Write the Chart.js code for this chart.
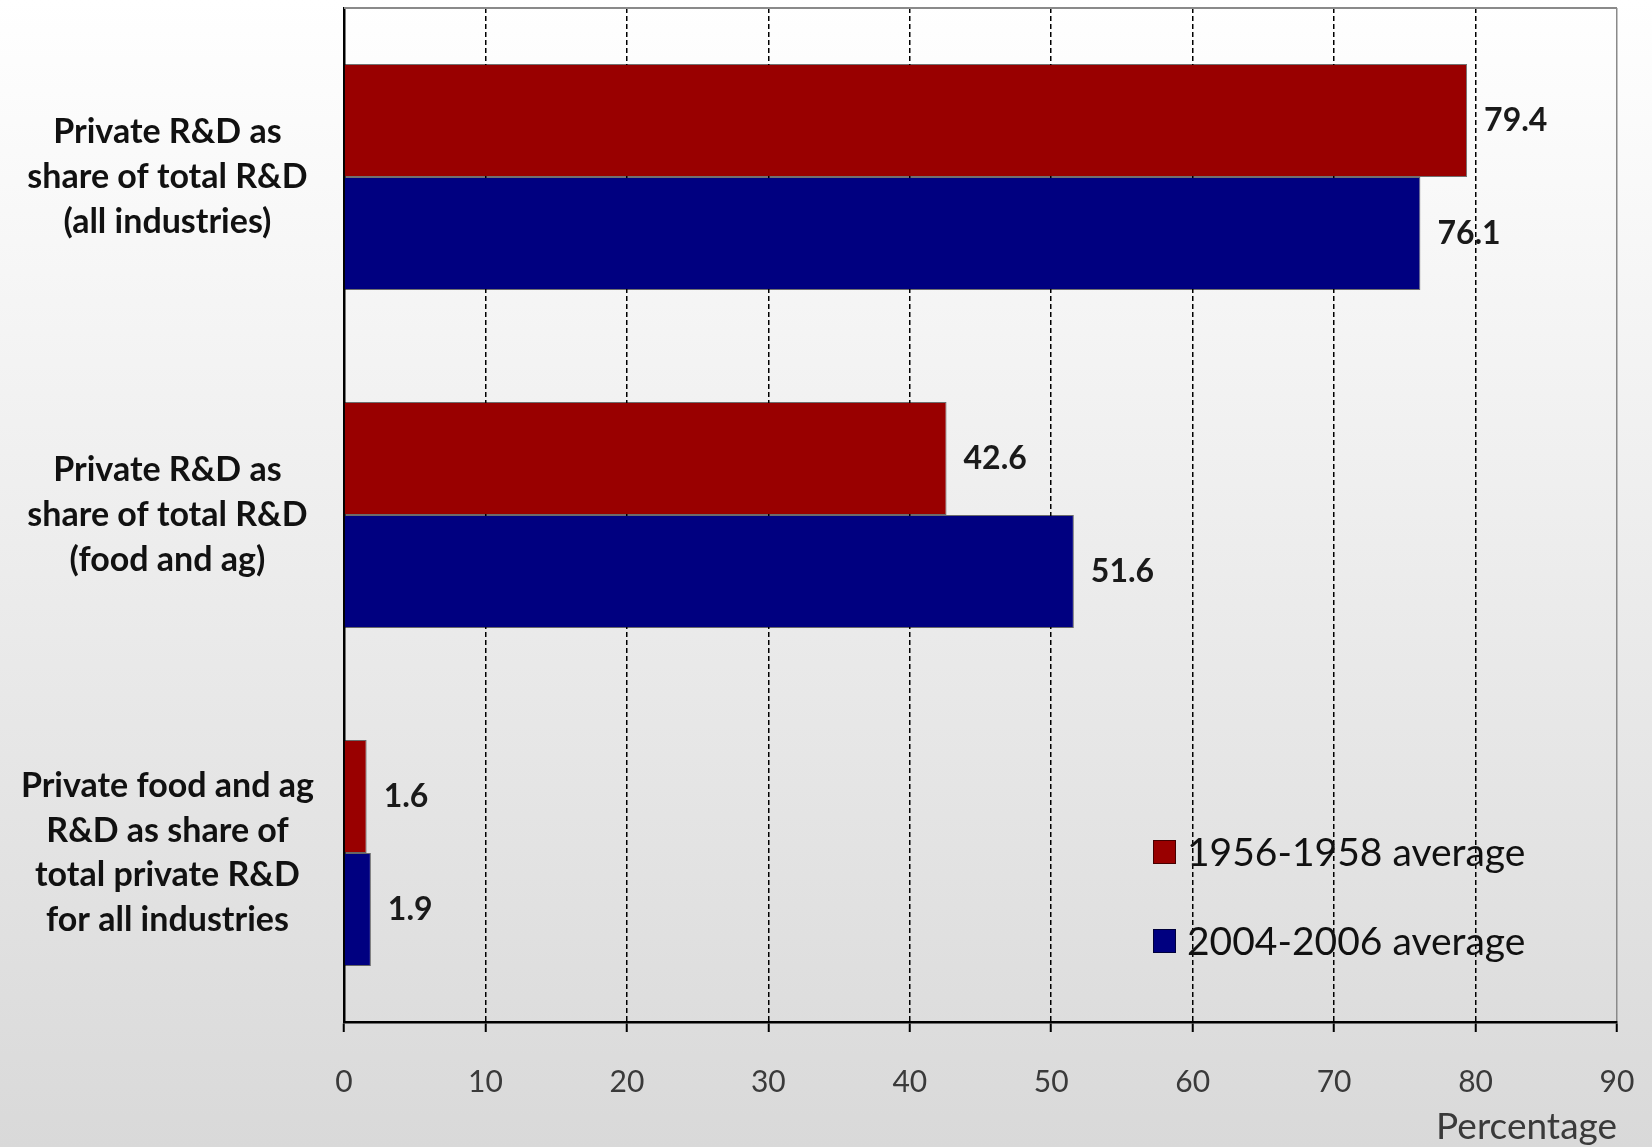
<!DOCTYPE html>
<html>
<head>
<meta charset="utf-8">
<title>Private R&amp;D shares</title>
<script src="https://cdn.jsdelivr.net/npm/chart.js@4.4.0/dist/chart.umd.min.js"></script>
<style>
    html, body { margin: 0; padding: 0; }
    body {
        width: 1652px;
        height: 1147px;
        overflow: hidden;
        background: linear-gradient(to bottom, #ffffff 0%, #d9d9d9 100%);
    }
    canvas { display: block; }
</style>
</head>
<body>
<canvas id="rdChart" width="1652" height="1147"></canvas>
<script>
// category labels, one line per array entry
const categories = [
    ['Private R&D as', 'share of total R&D', '(all industries)'],
    ['Private R&D as', 'share of total R&D', '(food and ag)'],
    ['Private food and ag', 'R&D as share of', 'total private R&D', 'for all industries']
];
const seriesNames = ['1956-1958 average', '2004-2006 average'];
const values1956 = [79.4, 42.6, 1.6];
const values2004 = [76.1, 51.6, 1.9];
const xTicks = [0, 10, 20, 30, 40, 50, 60, 70, 80, 90];
const xTitle = 'Percentage';

const RED = '#990000';
const BLUE = '#000080';

// numbers printed just past the end of each bar
const valueLabels = {
    id: 'valueLabels',
    afterDatasetsDraw(chart) {
        const ctx = chart.ctx;
        ctx.save();
        ctx.font = 'bold 32px Lato';
        ctx.fillStyle = '#1a1a1a';
        ctx.textAlign = 'left';
        ctx.textBaseline = 'middle';
        chart.data.datasets.forEach((ds, i) => {
            chart.getDatasetMeta(i).data.forEach((bar, j) => {
                ctx.fillText(ds.data[j].toFixed(1), bar.x + 17, bar.y);
            });
        });
        ctx.restore();
    }
};

// legend sits inside the plot, lower right
const insideLegend = {
    id: 'insideLegend',
    afterDraw(chart) {
        const ctx = chart.ctx;
        const area = chart.chartArea;
        const boxX = area.left + 809;
        const rows = [area.bottom - 170, area.bottom - 81];
        ctx.save();
        ctx.font = '39px Lato';
        ctx.textBaseline = 'middle';
        ctx.textAlign = 'left';
        chart.data.datasets.forEach((ds, i) => {
            const y = rows[i];
            ctx.fillStyle = ds.backgroundColor;
            ctx.fillRect(boxX, y - 12, 23, 24);
            ctx.strokeStyle = 'rgba(0,0,0,0.55)';
            ctx.lineWidth = 1;
            ctx.strokeRect(boxX + 0.5, y - 11.5, 22, 23);
            ctx.fillStyle = '#111';
            ctx.fillText(ds.label, boxX + 34, y + 1);
        });
        ctx.restore();
    }
};

// thin grey frame line along the top of the plot
const topFrame = {
    id: 'topFrame',
    beforeDatasetsDraw(chart) {
        const ctx = chart.ctx;
        const a = chart.chartArea;
        ctx.save();
        ctx.strokeStyle = '#8a8a8a';
        ctx.lineWidth = 2;
        ctx.beginPath();
        ctx.moveTo(a.left, a.top);
        ctx.lineTo(a.right, a.top);
        ctx.stroke();
        ctx.restore();
    }
};

new Chart(document.getElementById('rdChart'), {
    type: 'bar',
    data: {
        labels: categories,
        datasets: [
            {
                label: seriesNames[0],
                data: values1956,
                backgroundColor: RED,
                borderColor: 'rgba(0,0,0,0.55)',
                borderWidth: 1
            },
            {
                label: seriesNames[1],
                data: values2004,
                backgroundColor: BLUE,
                borderColor: 'rgba(0,0,0,0.55)',
                borderWidth: 1
            }
        ]
    },
    options: {
        indexAxis: 'y',
        responsive: false,
        animation: false,
        devicePixelRatio: 1,
        categoryPercentage: 0.668,
        barPercentage: 1.0,
        layout: { padding: { top: 8, right: 35, bottom: 0, left: 0 } },
        plugins: {
            legend: { display: false },
            tooltip: { enabled: false }
        },
        scales: {
            x: {
                min: xTicks[0],
                max: xTicks[xTicks.length - 1],
                afterBuildTicks: (scale) => {
                    scale.ticks = xTicks.map(v => ({ value: v }));
                },
                afterFit: (scale) => {
                    scale.height = 125;
                    scale.paddingLeft = 0;
                    scale.paddingRight = 0;
                },
                grid: {
                    color: (c) => {
                        if (c.tick && c.tick.value === 0) return 'rgba(0,0,0,0)';
                        if (c.tick && c.tick.value === 90) return '#8a8a8a';
                        return '#000';
                    },
                    lineWidth: 1.5,
                    tickColor: '#000',
                    tickWidth: 2,
                    tickLength: 10
                },
                border: {
                    color: '#000',
                    width: 2.5,
                    dash: (c) => (c.tick && c.tick.value === 90) ? [] : [5, 3]
                },
                ticks: {
                    padding: 32,
                    color: '#3a3a3a',
                    font: { family: 'Lato', size: 30, lineHeight: 1.2 }
                },
                title: {
                    display: true,
                    text: xTitle,
                    align: 'end',
                    color: '#3a3a3a',
                    padding: { top: 8, bottom: 1 },
                    font: { family: 'Lato', size: 37, lineHeight: 1.0 }
                }
            },
            y: {
                afterFit: (scale) => {
                    scale.width = 344;
                    scale.paddingTop = 0;
                    scale.paddingBottom = 0;
                },
                grid: { display: false, drawTicks: false },
                border: { color: '#000', width: 2.5 },
                ticks: {
                    crossAlign: 'center',
                    padding: 30,
                    color: '#111',
                    font: { family: 'Lato', size: 34, weight: 'bold', lineHeight: 1.32 }
                }
            }
        }
    },
    plugins: [valueLabels, insideLegend, topFrame]
});
</script>
</body>
</html>
